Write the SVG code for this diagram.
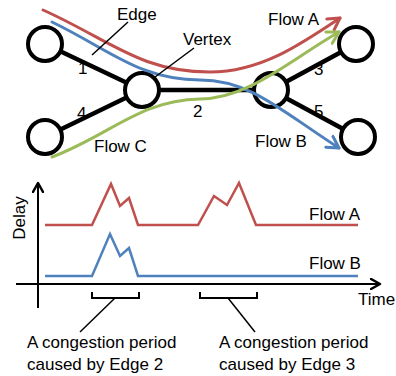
<svg xmlns="http://www.w3.org/2000/svg" width="396" height="376" viewBox="0 0 396 376">
  <style>
    text { font-family: "Liberation Sans", Arial, sans-serif; font-size: 17px; fill: #000; }
    .edge { stroke: #000; stroke-width: 4.5; fill: none; }
    .vertex { fill: #fff; stroke: #000; stroke-width: 4; }
    .flow { fill: none; stroke-width: 3; stroke-linecap: round; }
    .leader { stroke: #000; stroke-width: 1.5; fill: none; }
    .axis { stroke: #000; stroke-width: 2; fill: none; }
    .trace { fill: none; stroke-width: 2.5; stroke-linejoin: miter; }
    .red { stroke: #c0504d; }
    .blue { stroke: #4f81bd; }
    .green { stroke: #9bbb59; }
  </style>
  <defs>
    <marker id="arrowRed" viewBox="0 0 16 16" refX="13" refY="8" markerWidth="16" markerHeight="16" markerUnits="userSpaceOnUse" orient="auto">
      <path d="M1.5,1.5 L13,8 L1.5,14.5" fill="none" stroke="#c0504d" stroke-width="3" stroke-linecap="round" stroke-linejoin="round"/>
    </marker>
    <marker id="arrowBlue" viewBox="0 0 16 16" refX="13" refY="8" markerWidth="16" markerHeight="16" markerUnits="userSpaceOnUse" orient="auto">
      <path d="M1.5,1.5 L13,8 L1.5,14.5" fill="none" stroke="#4f81bd" stroke-width="3" stroke-linecap="round" stroke-linejoin="round"/>
    </marker>
    <marker id="arrowGreen" viewBox="0 0 16 16" refX="13" refY="8" markerWidth="16" markerHeight="16" markerUnits="userSpaceOnUse" orient="auto">
      <path d="M1.5,1.5 L13,8 L1.5,14.5" fill="none" stroke="#9bbb59" stroke-width="3" stroke-linecap="round" stroke-linejoin="round"/>
    </marker>
    <marker id="arrowBlack" viewBox="0 0 12 12" refX="10" refY="6" markerWidth="12" markerHeight="12" markerUnits="userSpaceOnUse" orient="auto">
      <path d="M1,1 L10,6 L1,11" fill="none" stroke="#000" stroke-width="2.5" stroke-linecap="round" stroke-linejoin="round"/>
    </marker>
  </defs>

  <!-- network edges -->
  <g id="connectors">
    <line class="edge" x1="45" y1="44" x2="142" y2="90"/>
    <line class="edge" x1="45" y1="137" x2="142" y2="90"/>
    <line class="edge" x1="142" y1="90" x2="271" y2="90"/>
    <line class="edge" x1="271" y1="90" x2="356" y2="44"/>
    <line class="edge" x1="271" y1="90" x2="358" y2="137"/>
    <text x="78" y="74">1</text>
    <text x="77" y="119">4</text>
    <text x="193" y="117">2</text>
    <text x="314" y="75">3</text>
    <text x="314" y="117">5</text>
  </g>

  <!-- vertices -->
  <g id="v-top-left"><circle class="vertex" cx="45" cy="44" r="17"/></g>
  <g id="v-bottom-left"><circle class="vertex" cx="45" cy="137" r="17"/></g>
  <g id="v-middle"><circle class="vertex" cx="142" cy="90" r="17"/></g>
  <g id="v-right"><circle class="vertex" cx="271" cy="90" r="17"/></g>
  <g id="v-top-right"><circle class="vertex" cx="356" cy="44" r="17"/></g>
  <g id="v-bottom-right"><circle class="vertex" cx="358" cy="137" r="17"/></g>

  <!-- flows routed over the network -->
  <g id="flows">
    <path class="flow red" d="M43,10 C110,40 140,72 210,72 C260,72 300,45 340,18" marker-end="url(#arrowRed)"/>
    <path class="flow blue" d="M52,22 C110,50 140,80 200,80 C250,80 280,110 339,148" marker-end="url(#arrowBlue)"/>
    <path class="flow green" d="M52,157 C110,135 140,100 200,99 C250,98 290,60 339,32" marker-end="url(#arrowGreen)"/>
    <text x="268" y="25">Flow A</text>
    <text x="255" y="147">Flow B</text>
    <text x="94" y="152">Flow C</text>
  </g>

  <!-- callouts -->
  <g id="callouts">
    <line class="leader" x1="128" y1="22" x2="92" y2="55"/>
    <text x="117" y="20">Edge</text>
    <line class="leader" x1="194" y1="48" x2="155" y2="77"/>
    <text x="183" y="45">Vertex</text>
  </g>

  <!-- delay over time -->
  <g id="plot">
    <line class="axis" x1="38" y1="308" x2="38" y2="183" marker-end="url(#arrowBlack)"/>
    <line class="axis" x1="16" y1="284" x2="380" y2="284" marker-end="url(#arrowBlack)"/>
    <text transform="translate(25,218) rotate(-90)" text-anchor="middle">Delay</text>
    <text x="358" y="305">Time</text>
    <polyline class="trace red" points="45,225 92,225 111,184 120,206 129,198 138,225 198,225 214,196 227,205 239,183 256,225 358,225"/>
    <polyline class="trace blue" points="45,276 92,276 110,234 120,256 129,248 138,276 358,276"/>
    <text x="309" y="220">Flow A</text>
    <text x="309" y="269">Flow B</text>
  </g>

  <!-- congestion periods -->
  <g id="periods">
    <path class="axis" d="M92,292 V298 H139 V292"/>
    <line class="leader" x1="115" y1="298" x2="80" y2="332"/>
    <path class="axis" d="M200,292 V298 H257 V292"/>
    <line class="leader" x1="228" y1="298" x2="255" y2="332"/>
    <text x="27" y="348">A congestion period</text>
    <text x="27" y="370">caused by Edge 2</text>
    <text x="219" y="348">A congestion period</text>
    <text x="219" y="370">caused by Edge 3</text>
  </g>
</svg>
